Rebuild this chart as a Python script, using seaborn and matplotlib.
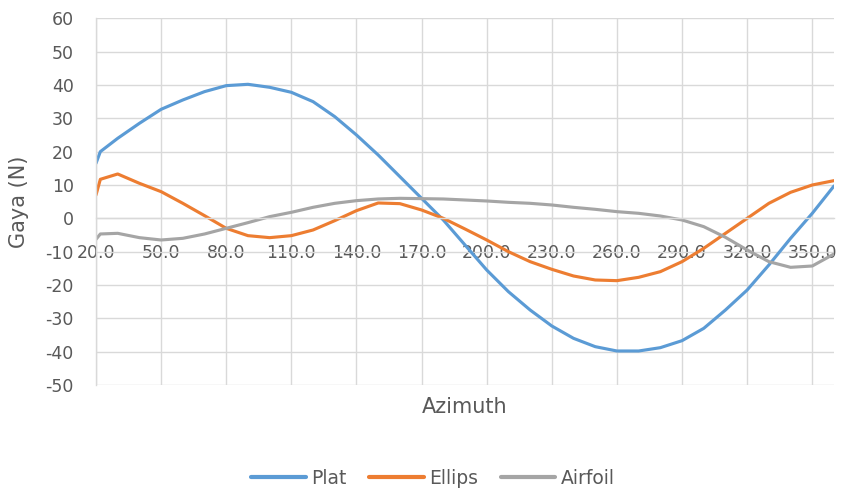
import matplotlib
matplotlib.use("Agg")
import matplotlib.pyplot as plt
import seaborn as sns
import pandas as pd

azimuth = [20, 22, 30, 40, 50, 60, 70, 80, 90, 100, 110, 120, 130, 140, 150, 160, 170, 180,
           190, 200, 210, 220, 230, 240, 250, 260, 270, 280, 290, 300, 310, 320, 330, 340, 350, 360]
plat = [16.5, 20.0, 24.0, 28.5, 32.7, 35.5, 38.0, 39.8, 40.2, 39.3, 37.8, 35.0, 30.5, 25.0, 19.0, 12.5, 6.0, -0.5,
        -8.0, -15.5, -22.0, -27.5, -32.3, -36.0, -38.5, -39.8, -39.8, -38.8, -36.7, -33.0, -27.5, -21.5, -14.0, -6.0, 1.5, 9.7]
ellips = [7.0, 11.7, 13.3, 10.5, 8.0, 4.5, 0.8, -3.0, -5.2, -5.8, -5.2, -3.5, -0.7, 2.3, 4.6, 4.4, 2.5, 0.0,
          -3.2, -6.5, -10.0, -13.0, -15.3, -17.3, -18.5, -18.7, -17.7, -16.0, -13.0, -9.0, -4.5, 0.0, 4.5, 7.8, 10.0, 11.3]
airfoil = [-6.3, -4.7, -4.5, -5.8, -6.5, -6.0, -4.7, -3.0, -1.3, 0.5, 1.8, 3.3, 4.5, 5.3, 5.8, 6.0, 5.9, 5.8,
           5.5, 5.2, 4.8, 4.5, 4.0, 3.3, 2.7, 2.0, 1.5, 0.7, -0.5, -2.5, -5.7, -9.5, -13.0, -14.7, -14.3, -10.7]
series_names = ["Plat", "Ellips", "Airfoil"]
colors = ["#5B9BD5", "#ED7D31", "#A5A5A5"]
xticks = list(range(20, 351, 30))
xtick_labels = [f"{v:.1f}" for v in xticks]
yticks = list(range(-50, 61, 10))

df = pd.DataFrame({"Azimuth": azimuth * 3,
                   "Gaya": plat + ellips + airfoil,
                   "Series": [s for s in series_names for _ in azimuth]})

sns.set_style("white")
plt.rcParams["font.family"] = ["DejaVu Sans"]
plt.rcParams["axes.unicode_minus"] = False
txt = "#595959"
grid = "#D9D9D9"

fig = plt.figure(figsize=(8.47, 4.90), dpi=100)
ax = fig.add_axes([96 / 847, 1 - 385 / 490, (834 - 96) / 847, (385 - 18.3) / 490])

sns.lineplot(data=df, x="Azimuth", y="Gaya", hue="Series", hue_order=series_names,
             palette=colors, linewidth=2.25, ax=ax, legend=False)

ax.set_xlim(20, 360)
ax.set_ylim(-50, 60)
ax.set_xticks(xticks)
ax.set_xticklabels(xtick_labels)
ax.set_yticks(yticks)
ax.grid(True, color=grid, linewidth=1.0)
ax.set_axisbelow(True)
for s in ["top", "right"]:
    ax.spines[s].set_visible(False)
ax.spines["left"].set_color(grid)
ax.spines["left"].set_linewidth(1.0)
ax.spines["bottom"].set_position(("data", 0))
ax.spines["bottom"].set_color(grid)
ax.spines["bottom"].set_linewidth(1.0)
ax.tick_params(axis="x", length=0, pad=18.5, labelsize=12.5, labelcolor=txt)
ax.tick_params(axis="y", length=0, pad=16, labelsize=12.5, labelcolor=txt)

ax.set_xlabel("Azimuth", fontsize=15, color=txt, va="center")
ax.xaxis.set_label_coords((464.7 - 96) / 738, (385 - 407) / 366.7)
ax.set_ylabel("Gaya (N)", fontsize=15, color=txt, va="center")
ax.yaxis.set_label_coords((19 - 96) / 738, 0.5)

handles = [plt.Line2D([], [], color=c, linewidth=3) for c in colors]
fig.legend(handles, series_names, loc="center", bbox_to_anchor=(433 / 847, 1 - 478 / 490),
           ncol=3, frameon=False, fontsize=13.5, labelcolor=txt, handlelength=2.9,
           handletextpad=0.3, columnspacing=1.2)

fig.savefig("out.png", dpi=100)
